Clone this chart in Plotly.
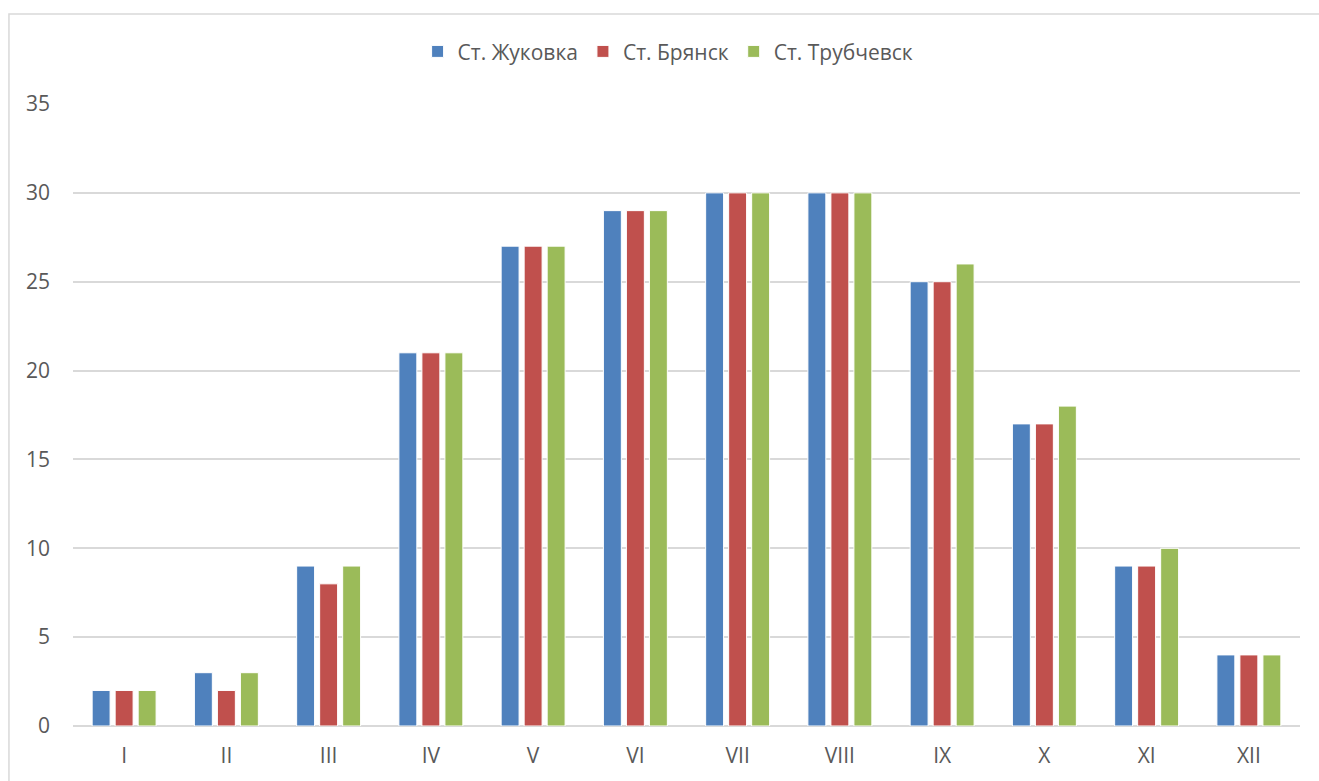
import plotly.graph_objects as go

months = ["I", "II", "III", "IV", "V", "VI", "VII", "VIII", "IX", "X", "XI", "XII"]
zhukovka = [2, 3, 9, 21, 27, 29, 30, 30, 25, 17, 9, 4]
bryansk = [2, 2, 8, 21, 27, 29, 30, 30, 25, 17, 9, 4]
trubchevsk = [2, 3, 9, 21, 27, 29, 30, 30, 26, 18, 10, 4]

series = [
    ("Ст. Жуковка", zhukovka, "#4F81BD"),
    ("Ст. Брянск", bryansk, "#C0504D"),
    ("Ст. Трубчевск", trubchevsk, "#9BBB59"),
]

font_family = "Open Sans, Liberation Sans, sans-serif"
text_color = "#595959"
grid_color = "#D9D9D9"

fig = go.Figure()
for name, vals, color in series:
    fig.add_trace(go.Bar(
        x=months, y=vals, name=name,
        marker=dict(color=color, line=dict(color="white", width=1)),
    ))

fig.update_layout(
    width=1319, height=781,
    margin=dict(l=73, r=19, t=104, b=55),
    paper_bgcolor="white", plot_bgcolor="white",
    barmode="group", bargap=0.325, bargroupgap=0.22,
    font=dict(family=font_family, size=21, color=text_color),
    legend=dict(
        orientation="h", x=0.485, xanchor="center", y=1.084, yanchor="middle",
        font=dict(size=21, color=text_color), itemwidth=30, traceorder="normal",
    ),
    showlegend=True,
    xaxis=dict(
        showgrid=False, showline=False, ticks="",
        tickfont=dict(size=21, color=text_color), ticklabelstandoff=15,
    ),
    yaxis=dict(
        range=[0, 35], dtick=5, showgrid=True, gridcolor=grid_color, gridwidth=1.5,
        zeroline=True, zerolinecolor=grid_color, zerolinewidth=1.5,
        showline=False, ticks="",
        tickfont=dict(size=21, color=text_color), ticklabelstandoff=22,
    ),
    shapes=[dict(
        type="rect", xref="paper", yref="paper",
        x0=-0.0522, x1=1.2, y0=-0.2, y1=1.1447,
        line=dict(color=grid_color, width=1.5), fillcolor="rgba(0,0,0,0)",
        layer="below",
    )],
)

fig.write_html("out.html")
